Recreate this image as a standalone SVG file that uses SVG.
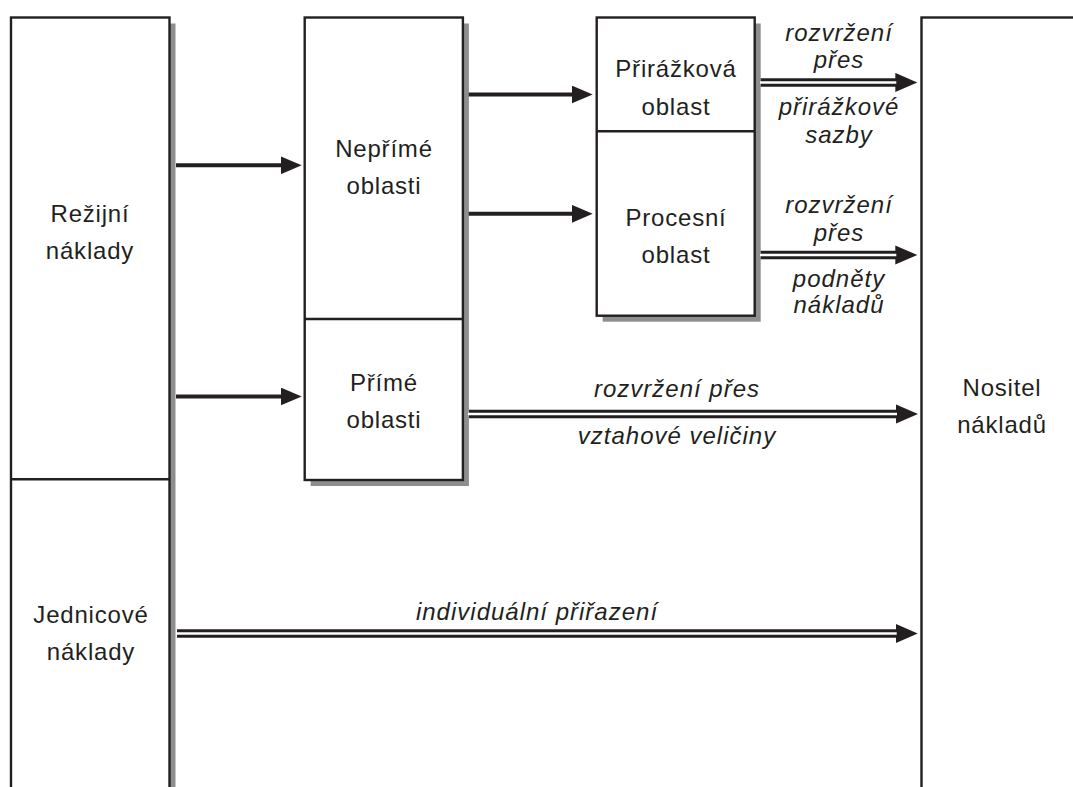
<svg xmlns="http://www.w3.org/2000/svg" width="1073" height="787" viewBox="0 0 1073 787">
  <style>
    .shadow { fill: #8e8e8e; }
    .box { fill: #ffffff; stroke: #231f20; stroke-width: 2.4; }
    .divider { stroke: #231f20; stroke-width: 2.4; }
    text { font-family: "Liberation Sans", Arial, sans-serif; font-size: 24px; fill: #231f20; text-anchor: middle; letter-spacing: 0.8px; }
    .it { font-style: italic; letter-spacing: 1px; }
    .single { stroke: #231f20; stroke-width: 4; fill: none; }
    .dbl-outer { stroke: #231f20; stroke-width: 8.6; fill: none; }
    .dbl-inner { stroke: #ffffff; stroke-width: 2.4; fill: none; }
  </style>
  <defs>
    <marker id="head" markerUnits="userSpaceOnUse" markerWidth="22" markerHeight="18" refX="1" refY="9" orient="auto">
      <path d="M0,0 L21,9 L0,18 Z" fill="#231f20"/>
    </marker>
    <marker id="head-dbl" markerUnits="userSpaceOnUse" markerWidth="23" markerHeight="20" refX="1" refY="9.6" orient="auto">
      <path d="M0,0 L22,9.6 L0,19.2 Z" fill="#231f20"/>
    </marker>
  </defs>

  <rect width="1073" height="787" fill="#ffffff"/>

  <!-- overhead / unit costs column -->
  <g id="naklady">
    <rect class="shadow" x="17" y="23.5" width="158.5" height="800"/>
    <rect class="box" x="11" y="17.5" width="158.5" height="800"/>
    <line class="divider" x1="11" y1="479.3" x2="169.5" y2="479.3"/>
    <text x="90" y="222.3">Režijní</text>
    <text x="90" y="259">náklady</text>
    <text x="91" y="622.7">Jednicové</text>
    <text x="91" y="660">náklady</text>
  </g>

  <!-- indirect / direct areas -->
  <g id="oblasti">
    <rect class="shadow" x="310.7" y="23.5" width="158.2" height="462.5"/>
    <rect class="box" x="304.7" y="17.5" width="158.2" height="462.5"/>
    <line class="divider" x1="304.7" y1="319" x2="462.9" y2="319"/>
    <text x="384" y="157.3">Nepřímé</text>
    <text x="384" y="194">oblasti</text>
    <text x="384" y="390.7">Přímé</text>
    <text x="384" y="427.7">oblasti</text>
  </g>

  <!-- surcharge / process areas -->
  <g id="prirazkova-procesni">
    <rect class="shadow" x="602.7" y="23.5" width="158" height="298.2"/>
    <rect class="box" x="596.7" y="17.5" width="158" height="298.2"/>
    <line class="divider" x1="596.7" y1="131.2" x2="754.7" y2="131.2"/>
    <text x="676" y="77.3">Přirážková</text>
    <text x="676" y="115">oblast</text>
    <text x="676" y="225.7">Procesní</text>
    <text x="676" y="262.7">oblast</text>
  </g>

  <!-- cost object -->
  <g id="nositel">
    <rect class="box" x="921.5" y="17.5" width="180" height="800"/>
    <text x="1002" y="396">Nositel</text>
    <text x="1002" y="432.7">nákladů</text>
  </g>

  <!-- connectors -->
  <g id="connectors">
    <line class="single" x1="176" y1="165.3" x2="281.7" y2="165.3" marker-end="url(#head)"/>
    <line class="single" x1="176" y1="396.5" x2="281.7" y2="396.5" marker-end="url(#head)"/>
    <line class="single" x1="468.7" y1="94.5" x2="572.7" y2="94.5" marker-end="url(#head)"/>
    <line class="single" x1="468.7" y1="213.8" x2="572.7" y2="213.8" marker-end="url(#head)"/>

    <line class="dbl-outer" x1="760.7" y1="82.5" x2="896.3" y2="82.5" marker-end="url(#head-dbl)"/>
    <line class="dbl-inner" x1="760" y1="82.5" x2="896.3" y2="82.5"/>
    <line class="dbl-outer" x1="760.7" y1="255" x2="896.3" y2="255" marker-end="url(#head-dbl)"/>
    <line class="dbl-inner" x1="760" y1="255" x2="896.3" y2="255"/>
    <line class="dbl-outer" x1="469" y1="414" x2="897" y2="414" marker-end="url(#head-dbl)"/>
    <line class="dbl-inner" x1="468" y1="414" x2="897" y2="414"/>
    <line class="dbl-outer" x1="177" y1="633.5" x2="896.7" y2="633.5" marker-end="url(#head-dbl)"/>
    <line class="dbl-inner" x1="176" y1="633.5" x2="896.7" y2="633.5"/>
  </g>

  <!-- connector labels -->
  <g id="labels">
    <text class="it" x="839" y="40.7">rozvržení</text>
    <text class="it" x="839" y="68.3">přes</text>
    <text class="it" x="839" y="115">přirážkové</text>
    <text class="it" x="839" y="143.3">sazby</text>
    <text class="it" x="839" y="213.3">rozvržení</text>
    <text class="it" x="839" y="240.7">přes</text>
    <text class="it" x="839" y="287.3">podněty</text>
    <text class="it" x="839" y="313.3">nákladů</text>
    <text class="it" x="677" y="397">rozvržení přes</text>
    <text class="it" x="677" y="444">vztahové veličiny</text>
    <text class="it" x="537" y="620">individuální přiřazení</text>
  </g>
</svg>
